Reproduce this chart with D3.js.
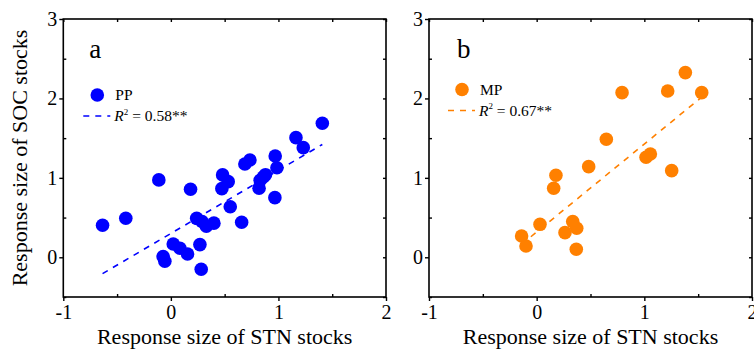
<!DOCTYPE html>
<html>
<head>
<meta charset="utf-8">
<script src="https://cdn.jsdelivr.net/npm/d3@7"></script>
<style>
  body { margin: 0; background: #fff; }
  svg { display: block; font-family: "Liberation Serif", "Times New Roman", serif; }
</style>
</head>
<body>
<script>
// data
const ppX = [-0.635, -0.419, -0.112, 0.183, -0.072, -0.056, 0.022, 0.084, 0.155, 0.282, 0.27,
             0.24, 0.29, 0.33, 0.40, 0.481, 0.474, 0.533, 0.552, 0.658, 0.688, 0.735,
             0.82, 0.83, 0.86, 0.88, 0.970, 0.986, 0.967, 1.163, 1.231, 1.408];
const ppY = [0.403, 0.491, 0.974, 0.856, 0.008, -0.05, 0.168, 0.113, 0.042, -0.151, 0.16,
             0.49, 0.45, 0.39, 0.43, 1.037, 0.864, 0.952, 0.637, 0.441, 1.175, 1.225,
             0.87, 0.97, 1.01, 1.04, 1.276, 1.128, 0.751, 1.506, 1.380, 1.688];
const mpX = [-0.140, -0.099, 0.031, 0.158, 0.179, 0.263, 0.335, 0.372, 0.368, 0.483,
             0.647, 0.793, 1.016, 1.056, 1.217, 1.254, 1.381, 1.533];
const mpY = [0.268, 0.142, 0.415, 0.869, 1.033, 0.310, 0.449, 0.365, 0.101, 1.141,
             1.486, 2.073, 1.259, 1.301, 2.094, 1.091, 2.325, 2.073];
const ppFit = { slope: 0.796, intercept: 0.30, r2: "0.58**" };
const mpFit = { slope: 1.108, intercept: 0.318, r2: "0.67**" };
const xTicks = [-1, 0, 1, 2];
const yTicks = [0, 1, 2, 3];
const xMinor = [-0.5, 0.5, 1.5];
const yMinor = [-0.5, 0.5, 1.5, 2.5];

const W = 754, H = 349;
const FONT = '"Liberation Serif", "Times New Roman", serif';
const svg = d3.select('body').append('svg').attr('width', W).attr('height', H)
    .attr('font-family', FONT);

function panel(opts) {
    const x = d3.scaleLinear().domain([-1, 2]).range([opts.left, opts.right]);
    const y = d3.scaleLinear().domain([-0.5, 3]).range([297, 19]);
    const g = svg.append('g');

    // frame
    g.append('rect')
        .attr('x', x(-1)).attr('y', y(3))
        .attr('width', x(2) - x(-1)).attr('height', y(-0.5) - y(3))
        .attr('fill', 'none').attr('stroke', '#000').attr('stroke-width', 1.6);

    const tickStyle = sel => {
        sel.attr('font-family', FONT);
        sel.select('.domain').remove();
        sel.selectAll('line').attr('stroke', '#000').attr('stroke-width', 1.4);
        sel.selectAll('text').attr('font-size', 20).attr('fill', '#000');
    };
    const plain = d => String(d);   // keep the hyphen "-1" like the original

    // bottom: majors out, minors in
    g.append('g').attr('transform', `translate(0,${y(-0.5)})`)
        .call(d3.axisBottom(x).tickValues(xTicks).tickSize(4).tickPadding(4).tickFormat(plain))
        .call(tickStyle);
    g.append('g').attr('transform', `translate(0,${y(-0.5)})`)
        .call(d3.axisBottom(x).tickValues(xMinor).tickSize(-3).tickFormat(''))
        .call(tickStyle);
    // left
    g.append('g').attr('transform', `translate(${x(-1)},0)`)
        .call(d3.axisLeft(y).tickValues(yTicks).tickSize(4).tickPadding(2).tickFormat(plain))
        .call(tickStyle);
    g.append('g').attr('transform', `translate(${x(-1)},0)`)
        .call(d3.axisLeft(y).tickValues(yMinor).tickSize(-3).tickFormat(''))
        .call(tickStyle);
    // top & right: all inward
    g.append('g').attr('transform', `translate(0,${y(3)})`)
        .call(d3.axisTop(x).tickValues(xTicks.concat(xMinor)).tickSize(-3).tickFormat(''))
        .call(tickStyle);
    g.append('g').attr('transform', `translate(${x(2)},0)`)
        .call(d3.axisRight(y).tickValues(yTicks.concat(yMinor)).tickSize(-3).tickFormat(''))
        .call(tickStyle);

    // x title
    g.append('text')
        .attr('x', (x(-1) + x(2)) / 2).attr('y', 344)
        .attr('text-anchor', 'middle').attr('font-size', 22)
        .text('Response size of STN stocks');

    // panel letter
    g.append('text')
        .attr('x', x(-1) + opts.letterDx).attr('y', 58)
        .attr('font-size', 27)
        .text(opts.letter);

    // regression line
    const xs = d3.extent(opts.xs);
    g.append('line')
        .attr('x1', x(xs[0])).attr('y1', y(opts.fit.intercept + opts.fit.slope * xs[0]))
        .attr('x2', x(xs[1])).attr('y2', y(opts.fit.intercept + opts.fit.slope * xs[1]))
        .attr('stroke', opts.color).attr('stroke-width', 1.6)
        .attr('stroke-dasharray', '6,6');

    // points
    g.selectAll('circle.pt')
        .data(opts.xs.map((v, i) => [v, opts.ys[i]]))
        .enter().append('circle')
            .attr('class', 'pt')
            .attr('cx', d => x(d[0]))
            .attr('cy', d => y(d[1]))
            .attr('r', 6.8)
            .attr('fill', opts.color);

    // legend
    const lx = x(-1) + opts.legDx, ly = opts.legY;
    g.append('circle').attr('cx', lx + 14).attr('cy', ly).attr('r', 6.8).attr('fill', opts.color);
    g.append('text').attr('x', lx + 32).attr('y', ly + 5)
        .attr('font-size', 15.5).text(opts.name);
    g.append('line')
        .attr('x1', lx).attr('x2', lx + 27)
        .attr('y1', ly + 21).attr('y2', ly + 21)
        .attr('stroke', opts.color).attr('stroke-width', 1.6)
        .attr('stroke-dasharray', '6,6');
    const t = g.append('text').attr('x', lx + 31).attr('y', ly + 26).attr('font-size', 15.5);
    t.append('tspan').attr('font-style', 'italic').text('R');
    t.append('tspan').attr('font-size', 9).attr('dy', -6.5).text('2');
    t.append('tspan').attr('dy', 6.5).text(' = ' + opts.fit.r2);

    return { x, y };
}

panel({ left: 63.3, right: 386, xs: ppX, ys: ppY, fit: ppFit, color: '#0000ff',
        name: 'PP', letter: 'a', letterDx: 26, legDx: 20, legY: 95 });
panel({ left: 429, right: 752, xs: mpX, ys: mpY, fit: mpFit, color: '#ff8000',
        name: 'MP', letter: 'b', letterDx: 28, legDx: 19, legY: 89.5 });

// y title (left panel only)
svg.append('text')
    .attr('transform', `translate(27,158) rotate(-90)`)
    .attr('text-anchor', 'middle').attr('font-size', 22)
    .text('Response size of SOC stocks');
</script>
</body>
</html>
